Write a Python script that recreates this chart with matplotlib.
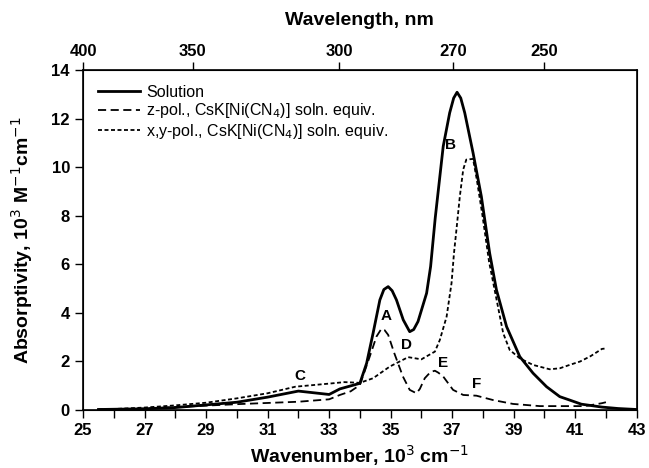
import matplotlib.pyplot as plt

plt.rcParams["font.family"] = ["Liberation Sans", "DejaVu Sans"]
plt.rcParams["lines.solid_joinstyle"] = "round"
plt.rcParams["lines.dash_joinstyle"] = "round"

# Solution spectrum (10^3 cm-1, 10^3 M-1 cm-1)
sol_x = [25.5, 26, 27, 28, 29, 30, 31, 32, 33, 33.35, 34.0, 34.22, 34.43, 34.65,
         34.78, 34.92, 35.05, 35.19, 35.41, 35.62, 35.75, 35.89, 36.17, 36.3,
         36.45, 36.71, 36.92, 37.05, 37.16, 37.28, 37.41, 37.68, 37.95, 38.22,
         38.44, 38.77, 39.2, 39.63, 40.07, 40.5, 40.82, 41.2, 41.87, 42.4, 43]
sol_y = [0, 0.01, 0.03, 0.08, 0.19, 0.3, 0.51, 0.76, 0.62, 0.85, 1.08, 1.91, 3.15,
         4.52, 4.95, 5.07, 4.9, 4.52, 3.7, 3.21, 3.3, 3.63, 4.8, 5.9, 7.9,
         10.86, 12.24, 12.85, 13.09, 12.85, 12.24, 10.59, 8.79, 6.45, 4.94, 3.42,
         2.18, 1.5, 0.94, 0.53, 0.39, 0.22, 0.1, 0.04, 0.0]

# z-polarized crystal spectrum
z_x = [25.5, 26, 27, 28, 29, 30, 31, 32, 33, 33.35, 33.7, 34.0, 34.32, 34.54, 34.7,
       34.8, 34.92, 35.12, 35.4, 35.62, 35.84, 35.95, 36.11, 36.3, 36.44, 36.55,
       36.71, 37.03, 37.36, 37.79, 38.33, 38.98, 39.85, 40.82, 41.3, 41.6, 41.87, 42.0]
z_y = [0, 0.0, 0.03, 0.1, 0.16, 0.22, 0.27, 0.32, 0.42, 0.6, 0.75, 1.01, 2.18,
       3.01, 3.33, 3.28, 3.08, 2.32, 1.36, 0.81, 0.67, 0.85, 1.29, 1.55, 1.6,
       1.52, 1.36, 0.81, 0.6, 0.57, 0.39, 0.23, 0.14, 0.14, 0.14, 0.2, 0.26, 0.3]

# x,y-polarized crystal spectrum
xy_x = [25.5, 26, 27, 28, 29, 30, 31, 31.9, 33.1, 33.5, 34.0, 34.43, 34.97, 35.57,
        36.0, 36.44, 36.6, 36.82, 36.98, 37.06, 37.14, 37.25, 37.36, 37.46, 37.68,
        37.8, 37.99, 38.2, 38.45, 38.66, 38.87, 39.2, 39.63, 40.17, 40.5, 40.82,
        41.16, 41.5, 41.87, 42.0]
xy_y = [0, 0.02, 0.08, 0.17, 0.28, 0.46, 0.67, 0.94, 1.08, 1.13, 1.1, 1.29, 1.77,
        2.16, 2.07, 2.39, 2.87, 3.83, 5.21, 6.45, 7.42, 8.79, 9.9, 10.31, 10.34,
        9.5, 7.97, 6.1, 4.5, 3.15, 2.46, 2.11, 1.84, 1.66, 1.7, 1.84, 1.98, 2.2,
        2.5, 2.52]

# band labels
band_names = ["A", "B", "C", "D", "E", "F"]
band_x = [34.85, 36.95, 32.05, 35.5, 36.7, 37.8]
band_y = [3.85, 10.9, 1.4, 2.65, 1.9, 1.05]

wl_ticks = [400, 350, 300, 270, 250]

fig = plt.figure(figsize=(6.49, 4.68), dpi=100)
ax = fig.add_axes([0.128, 0.125, 0.853, 0.725])

ax.plot(sol_x, sol_y, color="black", lw=2.0, label="Solution")
ax.plot(z_x, z_y, color="black", lw=1.3, linestyle=(0, (4.5, 2.5)),
        label="z-pol., CsK[Ni(CN$_4$)] soln. equiv.")
ax.plot(xy_x, xy_y, color="black", lw=1.3, linestyle=(0, (2.2, 1.4)),
        label="x,y-pol., CsK[Ni(CN$_4$)] soln. equiv.")

for name, bx, by in zip(band_names, band_x, band_y):
    ax.text(bx, by, name, ha="center", va="center", fontsize=11, fontweight="bold")

ax.set_xlim(25, 43)
ax.set_ylim(0, 14)
ax.set_xticks(range(25, 44, 2))
ax.set_xticks(range(25, 44), minor=True)
ax.set_yticks(range(0, 15, 2))
ax.tick_params(axis="both", labelsize=12, length=6, width=1, direction="out")
ax.tick_params(axis="x", which="minor", length=6, width=1)
ax.tick_params(right=False)
for lab in ax.get_xticklabels() + ax.get_yticklabels():
    lab.set_fontweight("bold")
ax.set_xlabel("Wavenumber, 10$^3$ cm$^{-1}$", fontsize=14, fontweight="bold", labelpad=4)
ax.set_ylabel("Absorptivity, 10$^3$ M$^{-1}$cm$^{-1}$", fontsize=14, fontweight="bold", labelpad=12)
for sp in ax.spines.values():
    sp.set_linewidth(1.2)

top = ax.twiny()
top.set_xlim(ax.get_xlim())
top.set_xticks([1e4 / w for w in wl_ticks])
top.set_xticklabels([str(w) for w in wl_ticks], fontsize=12, fontweight="bold")
top.tick_params(axis="x", length=6, width=1, direction="out", pad=2)
top.set_xlabel("Wavelength, nm", fontsize=14, fontweight="bold", labelpad=14)

leg = ax.legend(loc="upper left", bbox_to_anchor=(0.01, 0.985), frameon=False,
                fontsize=11.5, handlelength=2.6, handletextpad=0.4, labelspacing=0.1,
                borderaxespad=0.2)

fig.savefig("out.png", dpi=100)
